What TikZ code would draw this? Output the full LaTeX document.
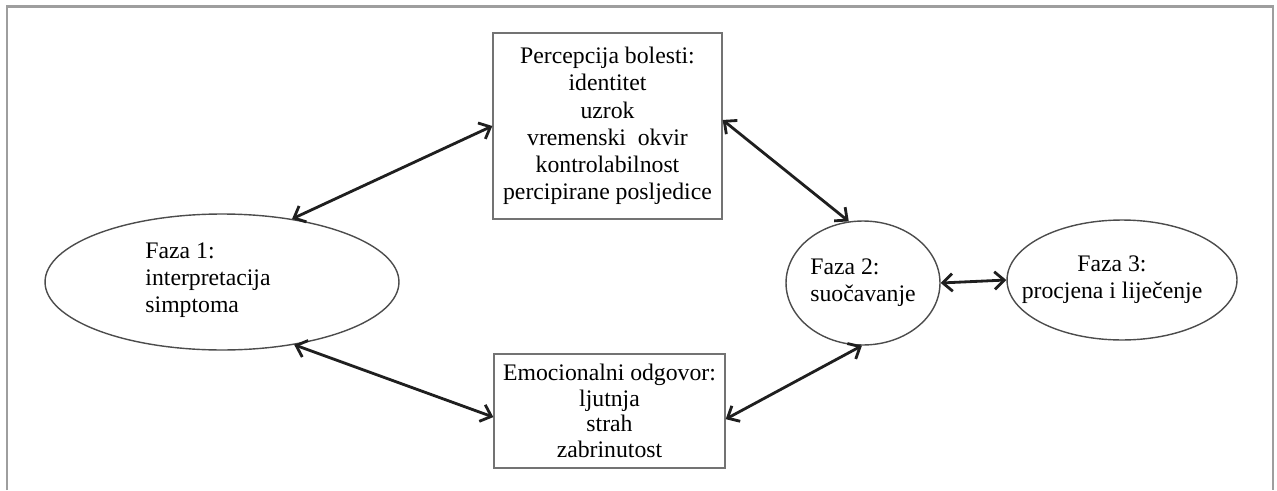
\documentclass[tikz,border=0pt]{standalone}
\usepackage{fontspec}
\setmainfont{Liberation Serif}
\usetikzlibrary{shapes.geometric, arrows.meta}

\begin{document}
\begin{tikzpicture}[x=0.02cm, y=-0.02cm,
  box/.style={draw=black!55, line width=0.8pt, rectangle, inner sep=0pt, align=center},
  faza/.style={draw=black!70, line width=0.8pt, ellipse, inner sep=0pt},
  link/.style={{Straight Barb[length=5.5pt,width=10pt]}-{Straight Barb[length=5.5pt,width=10pt]}, line width=1.6pt, black!88}]
\fontsize{13.5}{15.5}\selectfont
\useasboundingbox (0,0) rectangle (1277,490);
\draw[black!38, line width=1.2pt] (7,490) -- (7,6.5) -- (1273,6.5) -- (1273,490);

\node[box, minimum width=4.58cm, minimum height=3.72cm] at (607.5,126) (perc)
  {Percepcija bolesti:\\identitet\\uzrok\\vremenski\ \ okvir\\kontrolabilnost\\percipirane posljedice};
\node[box, minimum width=4.62cm, minimum height=2.28cm, font=\fontsize{13.5}{14.5}\selectfont] at (609.5,411) (emo)
  {Emocionalni odgovor:\\ljutnja\\strah\\zabrinutost};

\node[faza, minimum width=7.08cm, minimum height=2.72cm,
  label={[align=left, xshift=-0.28cm, yshift=0.04cm]center:{Faza 1:\\interpretacija\\simptoma}}] at (222,282) (f1) {};
\node[faza, minimum width=3.08cm, minimum height=2.48cm, align=left] at (863,283) (f2)
  {Faza 2:\\suočavanje};
\node[faza, minimum width=4.6cm, minimum height=2.4cm,
  label={[align=center, xshift=-0.2cm]center:{Faza 3:\\procjena i liječenje}}] at (1122,280) (f3) {};

\draw[link] (f1.42) -- (perc.west);
\draw[link] (f1.-41) -- (emo.183);
\draw[link] (perc.3) -- (f2.103);
\draw[link] (emo.-4) -- (f2.-91);
\draw[link] (f2.east) -- (f3.west);
\end{tikzpicture}
\end{document}
